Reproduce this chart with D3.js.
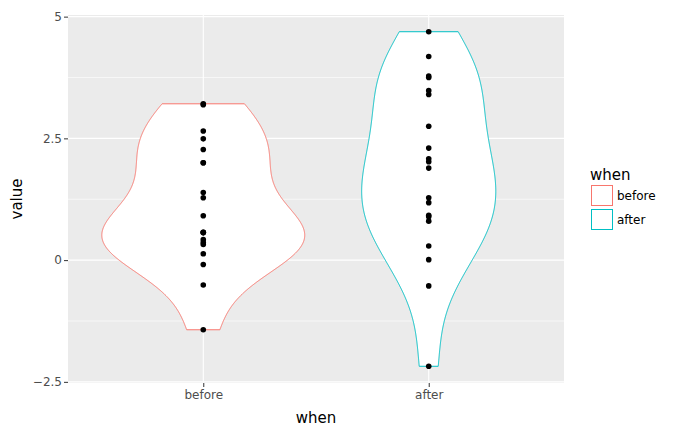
<!DOCTYPE html>
<html>
<head>
<meta charset="utf-8">
<script src="https://cdn.jsdelivr.net/npm/d3@7"></script>
<style>
  body { margin: 0; background: #fff; }
  text { font-family: "DejaVu Sans", sans-serif; }
</style>
</head>
<body>
<svg id="chart" width="683" height="435"></svg>
<script>
const categories = ["before", "after"];
const colors = ["#F8766D", "#00BFC4"];
const beforeValues = [-0.09, 2.00, 1.28, -0.51, 0.42, 2.65, -1.43, 0.57, 2.27, 0.13, 0.32, 0.91, 2.49, 0.36, 0.56, 0.57, 3.21, 3.19, 2.00, 1.39];
const afterValues = [3.48, 4.69, 0.80, 4.18, 0.29, 1.28, 3.75, 0.01, 2.08, 0.92, 1.89, -2.18, -0.53, 1.18, 3.78, 2.02, 2.30, 3.40, 0.89, 2.75];
const yTicks = [-2.5, 0, 2.5, 5];
const yTickLabels = ["\u22122.5", "0", "2.5", "5"];
const yMinor = [-1.25, 1.25, 3.75];

const groups = [beforeValues, afterValues];
const svg = d3.select("#chart");
const L = 68, R = 564, T = 15, B = 383;

const all = groups.flat();
const [mn, mx] = d3.extent(all);
const pad = (mx - mn) * 0.05;
const y = d3.scaleLinear().domain([mn - pad, mx + pad]).range([B, T]);
const x = d3.scalePoint().domain(categories).range([L, R]).padding(0.6);
const step = x.step();

// panel
svg.append("rect").attr("x", L).attr("y", T).attr("width", R - L).attr("height", B - T).attr("fill", "#EBEBEB");
const grid = svg.append("g");
yMinor.forEach(v => grid.append("line").attr("x1", L).attr("x2", R).attr("y1", y(v)).attr("y2", y(v)).attr("stroke", "#fff").attr("stroke-width", 0.6));
yTicks.forEach(v => grid.append("line").attr("x1", L).attr("x2", R).attr("y1", y(v)).attr("y2", y(v)).attr("stroke", "#fff").attr("stroke-width", 1.1));
categories.forEach(c => grid.append("line").attr("x1", x(c)).attr("x2", x(c)).attr("y1", T).attr("y2", B).attr("stroke", "#fff").attr("stroke-width", 1.1));

// KDE (gaussian kernel, nrd0 bandwidth, trimmed to data range)
function kde(vals) {
  const s = vals.slice().sort(d3.ascending);
  const n = s.length;
  const sd = d3.deviation(s);
  const iqr = d3.quantileSorted(s, 0.75) - d3.quantileSorted(s, 0.25);
  const bw = 0.9 * Math.min(sd, iqr / 1.34) * Math.pow(n, -0.2);
  const lo = s[0], hi = s[n - 1];
  const pts = [];
  for (let i = 0; i < 512; i++) {
    const t = lo + (hi - lo) * i / 511;
    let d = 0;
    for (const v of s) { const z = (t - v) / bw; d += Math.exp(-0.5 * z * z); }
    d /= n * bw * Math.sqrt(2 * Math.PI);
    pts.push([t, d]);
  }
  return pts;
}
const dens = groups.map(kde);
const maxD = d3.max(dens, p => d3.max(p, d => d[1]));
const wScale = d3.scaleLinear().domain([0, maxD]).range([0, 0.45 * step]);

dens.forEach((p, i) => {
  const cx = x(categories[i]);
  const right = p.map(d => [cx + wScale(d[1]), y(d[0])]);
  const left = p.slice().reverse().map(d => [cx - wScale(d[1]), y(d[0])]);
  svg.append("path").attr("d", d3.line()(right.concat(left)) + "Z")
    .attr("fill", "#fff").attr("stroke", colors[i]).attr("stroke-width", 1);
});

// points
groups.forEach((g, i) => {
  svg.append("g").selectAll("circle").data(g).join("circle")
    .attr("cx", x(categories[i])).attr("cy", d => y(d)).attr("r", 2.8).attr("fill", "#000");
});

// axes
const yAxis = d3.axisLeft(y).tickValues(yTicks).tickFormat((d, i) => yTickLabels[i]).tickSize(4).tickPadding(2);
const ya = svg.append("g").attr("transform", `translate(${L},0)`).call(yAxis);
const xAxis = d3.axisBottom(x).tickSize(4).tickPadding(3);
const xa = svg.append("g").attr("transform", `translate(0,${B})`).call(xAxis);
[ya, xa].forEach(a => {
  a.select(".domain").remove();
  a.selectAll(".tick line").attr("stroke", "#333").attr("stroke-width", 1);
  a.selectAll(".tick text").attr("fill", "#4D4D4D").style("font-size", "12px").style("font-family", "DejaVu Sans");
});

svg.append("text").attr("x", (L + R) / 2).attr("y", 423).attr("text-anchor", "middle").style("font-size", "15px").text("when");
svg.append("text").attr("transform", `translate(22,${(T + B) / 2}) rotate(-90)`).attr("text-anchor", "middle").style("font-size", "15px").text("value");

// legend
const lg = svg.append("g");
lg.append("text").attr("x", 590).attr("y", 180).style("font-size", "15px").text("when");
categories.forEach((c, i) => {
  const yy = 185 + i * 24;
  lg.append("rect").attr("x", 591.5).attr("y", yy + 0.5).attr("width", 21).attr("height", 20)
    .attr("fill", "#fff").attr("stroke", colors[i]).attr("stroke-width", 1);
  lg.append("text").attr("x", 617).attr("y", yy + 14.5).style("font-size", "12px").text(c);
});
</script>
</body>
</html>
